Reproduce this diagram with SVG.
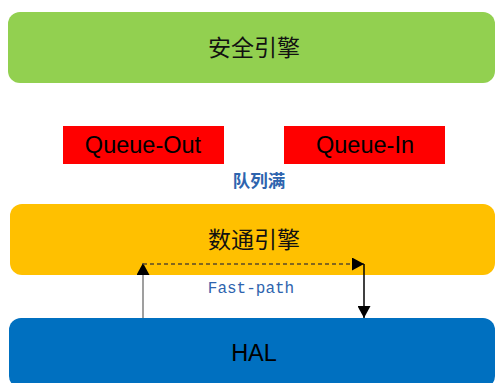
<svg xmlns="http://www.w3.org/2000/svg" width="496" height="383" viewBox="0 0 496 383">
<style>
.cjk{font-family:"Liberation Sans","Noto Sans CJK SC",sans-serif;font-size:23px;fill:#111;text-anchor:middle}
.lat{font-family:"Liberation Sans",sans-serif;font-size:23.5px;fill:#000;text-anchor:middle}
.lbl{font-family:"Noto Sans CJK SC",sans-serif;font-size:17.5px;font-weight:bold;fill:#2E64AE;text-anchor:middle}
.mono{font-family:"Liberation Mono","DejaVu Sans Mono",monospace;font-size:16px;fill:#2E64AE;text-anchor:middle}
</style>
<defs>
<marker id="ah" viewBox="0 0 12 13" refX="12" refY="6.5" markerWidth="12" markerHeight="13" markerUnits="userSpaceOnUse" orient="auto">
<path d="M0,0 L12,6.5 L0,13 Z" fill="#000"/>
</marker>
</defs>
<g id="security-engine">
<rect x="8" y="12" width="487" height="71" rx="12" fill="#92D050"/>
<text class="cjk" x="254" y="56">安全引擎</text>
</g>
<g id="queue-out">
<rect x="63" y="126" width="161" height="38" fill="#FF0000"/>
<text class="lat" x="143" y="153">Queue-Out</text>
</g>
<g id="queue-in">
<rect x="284" y="126" width="161" height="38" fill="#FF0000"/>
<text class="lat" x="365" y="153">Queue-In</text>
</g>
<text class="lbl" x="259" y="187">队列满</text>
<g id="datacom-engine">
<rect x="10" y="204" width="485" height="71" rx="12" fill="#FFC000"/>
<text class="cjk" x="254" y="248">数通引擎</text>
</g>
<g id="hal">
<rect x="9" y="318" width="486" height="70" rx="12" fill="#0070C0"/>
<text class="lat" x="254" y="361">HAL</text>
</g>
<g id="connectors">
<line x1="143" y1="318" x2="143" y2="263" stroke="#7F7F7F" stroke-width="1.5" marker-end="url(#ah)"/>
<line x1="143" y1="264" x2="364" y2="264" stroke="#5A4A2A" stroke-width="1.5" stroke-dasharray="4,3" marker-end="url(#ah)"/>
<line x1="364" y1="264" x2="364" y2="318" stroke="#000" stroke-width="1.5" marker-end="url(#ah)"/>
</g>
<text class="mono" x="251" y="293">Fast-path</text>
</svg>
